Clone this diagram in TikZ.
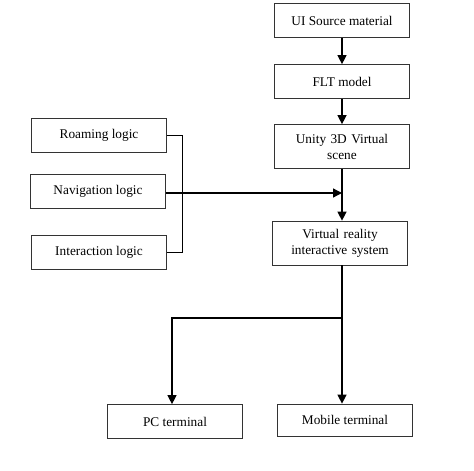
\documentclass[tikz,border=0pt]{standalone}
\usepackage{fontspec}
\setmainfont{Liberation Serif}
\usetikzlibrary{arrows.meta,positioning}
\newcommand\BoxWidth{135pt}
\newcommand\BoxHeight{34pt}
\newcommand\Mid{342}
\tikzstyle{block}=[rectangle,draw=black!80,line width=0.7pt,text centered,
                     minimum height=\BoxHeight,minimum width=\BoxWidth,
                     font=\fontsize{13.3}{16}\selectfont]
\tikzstyle{tallblock}=[block,minimum height=44pt,text width=125pt,align=center]
\tikzstyle{flow}=[line width=1.3pt,-{Triangle[length=9pt,width=9pt]}]
\tikzstyle{link}=[line width=0.8pt]

\begin{document}
\begin{tikzpicture}[x=1pt,y=-1pt]
      \useasboundingbox (0,0) rectangle (474,471);
      % main column
      \node[block] (src) at (\Mid,20.5) {UI Source material};
      \node[block] (flt) at (\Mid,81.5) {FLT model};
      \node[tallblock] (unity) at (\Mid,146.5) {Unity 3D Virtual\\scene};
      \node[tallblock] (vr) at (\Mid-2,243) {Virtual reality\\interactive system};
      % logic blocks
      \node[block] (roam) at (99,135) {Roaming logic};
      \node[block] (nav) at (98,191.5) {Navigation logic};
      \node[block] (inter) at (99,252) {Interaction logic};
      % terminals
      \node[block] (pc) at (175,421.5) {PC terminal};
      \node[block,minimum height=32pt] (mob) at (345,420) {Mobile terminal};
      \coordinate (join) at (\Mid,193);
      \coordinate (split) at (\Mid,318);
      % connectors
      \draw[flow] (src) -- (flt);
      \draw[flow] (flt) -- (unity);
      \draw[flow] (unity.south -| join) -- (vr.north -| join);
      \draw[link] (roam.east) -- ++(16,0) |- (inter.east);
      \draw[flow] (nav.east |- join) -- (join);
      \draw[flow] (vr.south -| split) -- (mob.north -| split);
      \draw[flow] (split) -| ([xshift=-3pt]pc.north);
   \end{tikzpicture}
\end{document}
